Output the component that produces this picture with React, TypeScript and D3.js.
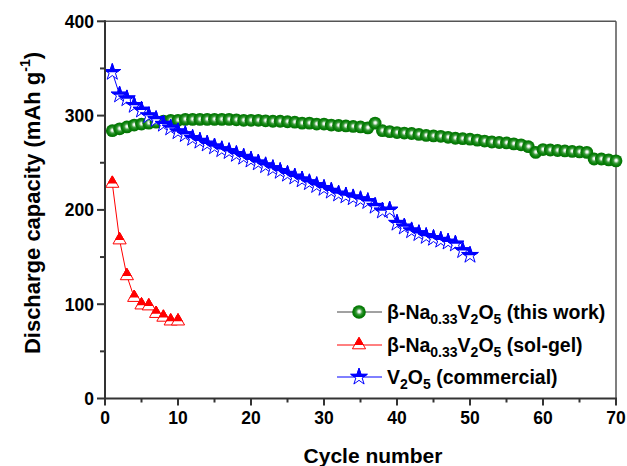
import React from "react";
import * as d3 from "d3";

const W = 627;
const H = 466;

// beta-Na0.33V2O5 (this work), cycles 1..70
const thisWork = [
  284, 286, 288, 290, 291, 292, 293, 294, 295, 295,
  296, 296, 296, 296, 296, 296, 296, 295.5, 295, 295,
  295, 294.5, 294, 294, 293.5, 293, 292, 292, 291, 291,
  290, 289.5, 289, 288.5, 288, 287, 292, 284, 283, 282,
  281.5, 281, 280, 279, 278.5, 278, 277, 276, 275.5, 275,
  274, 273, 272, 271.5, 271, 270, 269, 267, 261, 264,
  263.5, 263, 262.5, 262, 261.5, 261, 254, 254, 253, 252,
];

// beta-Na0.33V2O5 (sol-gel), cycles 1..10
const solGel = [228, 168, 130, 107, 99, 98, 90, 86, 82, 82];

// V2O5 (commercial), cycles 1..50
const commercial = [
  346, 322, 318, 311, 306, 300, 296, 291, 287, 283,
  280, 276, 273, 270, 267, 264, 262, 259, 256, 253,
  250, 247, 244, 241, 238, 235, 232, 229, 226, 223,
  220, 217, 215, 213, 211, 209, 204, 199, 200, 186,
  182, 178, 175, 172, 170, 168, 166, 164, 157, 152,
];

const xTicks = [0, 10, 20, 30, 40, 50, 60, 70];
const xMinor = [5, 15, 25, 35, 45, 55, 65];
const yTicks = [0, 100, 200, 300, 400];
const yMinor = [50, 150, 250, 350];

const FONT = "'Liberation Sans', Arial, Helvetica, sans-serif";

export default function App() {
  const x = d3.scaleLinear().domain([0, 70]).range([105, 616]);
  const y = d3.scaleLinear().domain([0, 400]).range([398.5, 21.3]);

  const line = d3
    .line<number>()
    .x((_, i) => x(i + 1))
    .y((d) => y(d));

  const starPath = d3.symbol(d3.symbolStar, 85)()!;
  const triPath = d3.symbol(d3.symbolTriangle, 75)()!;

  const red = "#ff0000";
  const blue = "#0000ff";
  const axisColor = "#333333";

  const sphere = (cx: number, cy: number, key: string, r = 6.4) => (
    <circle key={key} cx={cx} cy={cy} r={r} fill="url(#sphereGrad)" />
  );

  const triMarker = (cx: number, cy: number, key: string) => (
    <g key={key} transform={`translate(${cx},${cy})`}>
      <path d={triPath} fill="#ffffff" stroke={red} strokeWidth={1} />
      <path d={triPath} fill={red} stroke={red} strokeWidth={1} clipPath="url(#topHalf)" />
    </g>
  );

  const starMarker = (cx: number, cy: number, key: string) => (
    <g key={key} transform={`translate(${cx},${cy})`}>
      <path d={starPath} fill="#ffffff" stroke={blue} strokeWidth={1} />
      <path d={starPath} fill={blue} stroke={blue} strokeWidth={1} clipPath="url(#topHalf)" />
    </g>
  );

  const legendX0 = 337;
  const legendX1 = 382;
  const legendMx = 359;
  const legendTx = 387;
  const rows = [312, 345, 377];
  const LF = 19.5;
  const SF = 14;

  return (
    <svg
      width={W}
      height={H}
      viewBox={`0 0 ${W} ${H}`}
      style={{ position: "absolute", left: 0, top: 0, background: "#fff" }}
      fontFamily={FONT}
    >
      <defs>
        <radialGradient id="sphereGrad" cx="50%" cy="50%" r="55%" fx="52%" fy="46%">
          <stop offset="0%" stopColor="#ffffff" />
          <stop offset="14%" stopColor="#eef6ee" />
          <stop offset="40%" stopColor="#3c9a3c" />
          <stop offset="65%" stopColor="#0a820a" />
          <stop offset="100%" stopColor="#006a00" />
        </radialGradient>
        <clipPath id="topHalf" clipPathUnits="userSpaceOnUse">
          <rect x={-20} y={-20} width={40} height={20} />
        </clipPath>
      </defs>

      {/* frame top & right */}
      <line x1={x(0)} x2={x(70)} y1={y(400)} y2={y(400)} stroke="#555" strokeWidth={1.5} />
      <line x1={x(70)} x2={x(70)} y1={y(400)} y2={y(0)} stroke="#555" strokeWidth={1.5} />

      {/* series: this work */}
      <path d={line(thisWork)!} fill="none" stroke="#444" strokeWidth={1} />
      {thisWork.map((d, i) => sphere(x(i + 1), y(d), `g${i}`))}

      {/* series: sol-gel */}
      <path d={line(solGel)!} fill="none" stroke={red} strokeWidth={1} />
      {solGel.map((d, i) => triMarker(x(i + 1), y(d), `r${i}`))}

      {/* series: commercial */}
      <path d={line(commercial)!} fill="none" stroke={blue} strokeWidth={1} />
      {commercial.map((d, i) => starMarker(x(i + 1), y(d), `b${i}`))}

      {/* axes */}
      <line x1={x(0)} x2={x(0)} y1={y(400) - 1} y2={y(0) + 1} stroke={axisColor} strokeWidth={2} />
      <line x1={x(0) - 1} x2={x(70) + 1} y1={y(0)} y2={y(0)} stroke={axisColor} strokeWidth={2} />

      {yTicks.map((t) => (
        <g key={`yt${t}`}>
          <line x1={x(0) - 8} x2={x(0)} y1={y(t)} y2={y(t)} stroke={axisColor} strokeWidth={2} />
          <text
            x={x(0) - 11}
            y={y(t)}
            dy="0.36em"
            textAnchor="end"
            fontSize={17.5}
            fontWeight="bold"
            fill="#000"
          >
            {t}
          </text>
        </g>
      ))}
      {yMinor.map((t) => (
        <line key={`ym${t}`} x1={x(0) - 5} x2={x(0)} y1={y(t)} y2={y(t)} stroke={axisColor} strokeWidth={2} />
      ))}

      {xTicks.map((t) => (
        <g key={`xt${t}`}>
          <line x1={x(t)} x2={x(t)} y1={y(0)} y2={y(0) + 7} stroke={axisColor} strokeWidth={2} />
          <text
            x={x(t)}
            y={y(0) + 25}
            textAnchor="middle"
            fontSize={17.5}
            fontWeight="bold"
            fill="#000"
          >
            {t}
          </text>
        </g>
      ))}
      {xMinor.map((t) => (
        <line key={`xm${t}`} x1={x(t)} x2={x(t)} y1={y(0)} y2={y(0) + 4} stroke={axisColor} strokeWidth={2} />
      ))}

      {/* axis titles */}
      <text
        x={373}
        y={463}
        textAnchor="middle"
        fontSize={21}
        fontWeight="bold"
        fill="#000"
      >
        Cycle number
      </text>
      <text
        transform={`translate(40,203) rotate(-90)`}
        textAnchor="middle"
        fontSize={22}
        fontWeight="bold"
        fill="#000"
      >
        Discharge capacity (mAh g
        <tspan fontSize={14} dy={-10}>-1</tspan>
        <tspan dy={10}>)</tspan>
      </text>

      {/* legend */}
      <g>
        <line x1={legendX0} x2={legendX1} y1={rows[0]} y2={rows[0]} stroke="#444" strokeWidth={1} />
        {sphere(legendMx, rows[0], "lg", 6.8)}
        <text x={legendTx} y={rows[0] + 7} fontSize={LF} fontWeight="bold" fill="#000">
          β-Na
          <tspan fontSize={SF} dy={5}>0.33</tspan>
          <tspan dy={-5}>V</tspan>
          <tspan fontSize={SF} dy={5}>2</tspan>
          <tspan dy={-5}>O</tspan>
          <tspan fontSize={SF} dy={5}>5</tspan>
          <tspan dy={-5}> (this work)</tspan>
        </text>

        <line x1={legendX0} x2={legendX1} y1={rows[1]} y2={rows[1]} stroke={red} strokeWidth={1} />
        {triMarker(legendMx, rows[1], "lr")}
        <text x={legendTx} y={rows[1] + 7} fontSize={LF} fontWeight="bold" fill="#000">
          β-Na
          <tspan fontSize={SF} dy={5}>0.33</tspan>
          <tspan dy={-5}>V</tspan>
          <tspan fontSize={SF} dy={5}>2</tspan>
          <tspan dy={-5}>O</tspan>
          <tspan fontSize={SF} dy={5}>5</tspan>
          <tspan dy={-5}> (sol-gel)</tspan>
        </text>

        <line x1={legendX0} x2={legendX1} y1={rows[2]} y2={rows[2]} stroke={blue} strokeWidth={1} />
        {starMarker(legendMx, rows[2], "lb")}
        <text x={legendTx} y={rows[2] + 7} fontSize={LF} fontWeight="bold" fill="#000">
          V
          <tspan fontSize={SF} dy={5}>2</tspan>
          <tspan dy={-5}>O</tspan>
          <tspan fontSize={SF} dy={5}>5</tspan>
          <tspan dy={-5}> (commercial)</tspan>
        </text>
      </g>
    </svg>
  );
}
